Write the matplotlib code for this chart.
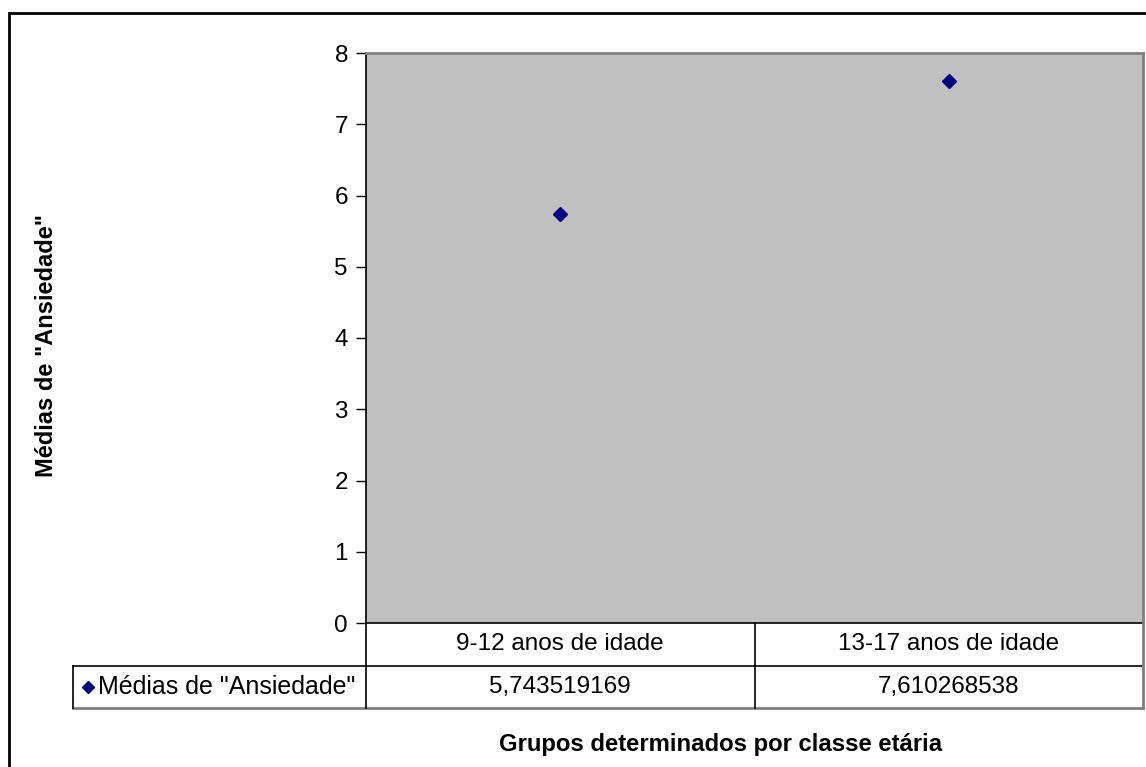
import matplotlib
matplotlib.use('Agg')
import matplotlib.pyplot as plt
from matplotlib.lines import Line2D
from matplotlib.patches import Rectangle

plt.rcParams['font.family'] = ['Liberation Sans', 'DejaVu Sans']

categorias = ['9-12 anos de idade', '13-17 anos de idade']
medias = [5.743519169, 7.610268538]
serie = 'Médias de "Ansiedade"'
yticks = [0, 1, 2, 3, 4, 5, 6, 7, 8]

W, H = 1146, 767
fig = plt.figure(figsize=(W / 100, H / 100), dpi=100)


def fx(px):
    return px / W


def fy(py):
    return 1 - py / H


# pixel layout (from the reference)
L, R, T, B = 366, 1143, 53, 623
row1, row2 = 666, 708
hdr_left = 73
fs = 17.5

ax = fig.add_axes([fx(L), fy(B), fx(R) - fx(L), fy(T) - fy(B)])
ax.set_facecolor('#C0C0C0')
x = list(range(len(categorias)))
ax.plot(x, medias, linestyle='none', marker='D', markersize=7.5,
        color='#000080', clip_on=False)
ax.set_xlim(-0.5, len(categorias) - 0.5)
ax.set_ylim(0, 8)
ax.set_yticks(yticks)
ax.set_yticklabels([str(t) for t in yticks], fontsize=fs)
ax.tick_params(axis='y', direction='out', length=7, width=1, pad=6)
ax.set_xticks([])
for s in ['top', 'right']:
    ax.spines[s].set_color('#808080')
    ax.spines[s].set_linewidth(2)
ax.spines['left'].set_linewidth(1.2)
ax.spines['bottom'].set_linewidth(1.2)

# data table under the plot
def hline(y, x0, x1, color='black', lw=1.2):
    fig.add_artist(Line2D([fx(x0), fx(x1)], [fy(y), fy(y)], color=color, lw=lw))


def vline(xp, y0, y1, color='black', lw=1.2):
    fig.add_artist(Line2D([fx(xp), fx(xp)], [fy(y0), fy(y1)], color=color, lw=lw))


col_w = (R - L) / len(categorias)
hline(row1, hdr_left, R)
hline(row2, hdr_left, R, color='#808080', lw=2)
vline(hdr_left, row1, row2)
vline(L, B, row2)
vline(R, B, row2, color='#808080', lw=2)
for i in range(1, len(categorias)):
    vline(L + i * col_w, B, row2)

for i, (c, v) in enumerate(zip(categorias, medias)):
    cx = fx(L + (i + 0.5) * col_w)
    fig.text(cx, fy((B + row1) / 2), c, ha='center', va='center', fontsize=fs)
    fig.text(cx, fy((row1 + row2) / 2), f'{v:.9f}'.replace('.', ','),
             ha='center', va='center', fontsize=fs)

fig.add_artist(Line2D([fx(88)], [fy((row1 + row2) / 2)], marker='D',
                      markersize=6.5, color='#000080', linestyle='none'))
fig.text(fx(98), fy((row1 + row2) / 2), serie, ha='left', va='center',
         fontsize=fs + 0.5)

fig.text(fx(47), fy((T + B) / 2 + 8), serie, rotation=90, ha='center',
         va='center', fontsize=17, fontweight='bold')
fig.text(fx(721), fy(745), 'Grupos determinados por classe etária',
         ha='center', va='center', fontsize=17.2, fontweight='bold')

# outer chart frame
fig.add_artist(Rectangle((fx(9), -0.05), 1.1 - fx(9), fy(13) + 0.05,
                         transform=fig.transFigure, fill=False,
                         edgecolor='black', lw=2))

fig.savefig('out.png', dpi=100)
